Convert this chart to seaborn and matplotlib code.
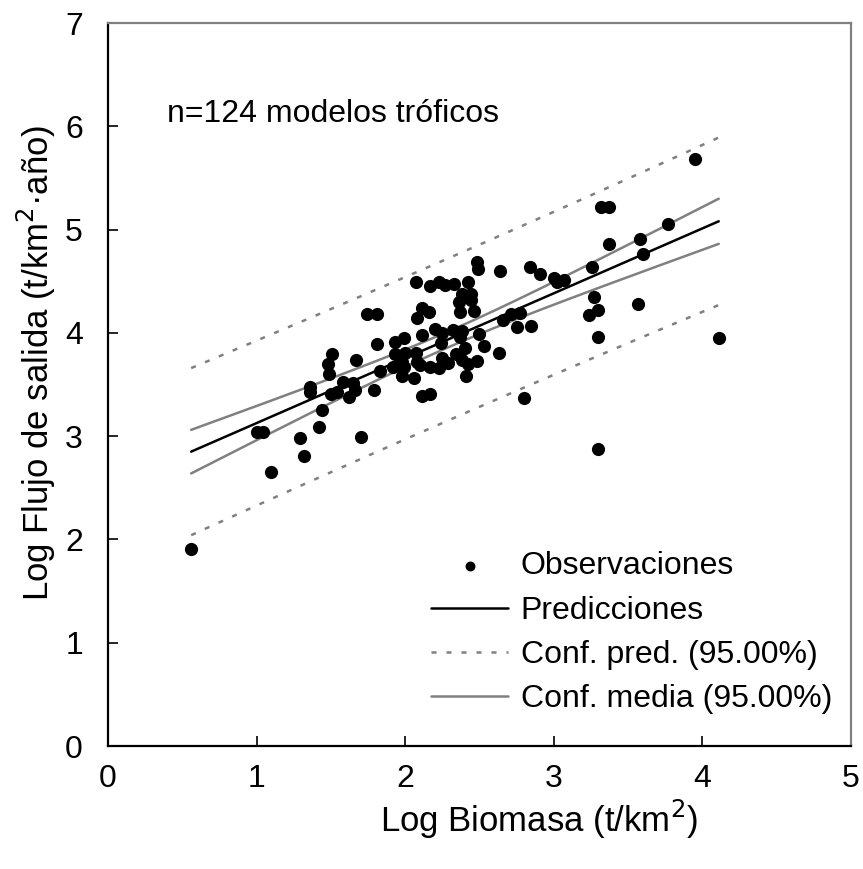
import numpy as np
import pandas as pd
import matplotlib
matplotlib.use("Agg")
import matplotlib.pyplot as plt
import seaborn as sns

# Observed trophic models: log biomass (t/km2) vs log outflow (t/km2·year)
log_biomasa = [
    0.56, 1.00, 1.04, 1.10, 1.29, 1.32, 1.36, 1.36, 1.42, 1.44,
    1.48, 1.49, 1.51, 1.50, 1.54, 1.58, 1.62, 1.65, 1.66, 1.67,
    1.70, 1.74, 1.79, 1.81, 1.81, 1.83,
    1.93, 1.99, 1.93, 2.00, 2.07, 1.92, 1.98, 1.99, 1.98, 2.06,
    2.08, 2.10, 2.11, 2.17, 2.11, 2.17, 2.23, 2.24, 2.25, 2.29,
    2.34, 2.38, 2.42, 2.41, 2.40, 2.48, 2.53, 2.63, 2.50, 2.20,
    2.25, 2.32, 2.38, 2.37, 2.08, 2.11, 2.16, 2.07, 2.17, 2.23,
    2.27, 2.33, 2.42, 2.38, 2.44, 2.36, 2.44, 2.37, 2.46, 2.48,
    2.49, 2.64, 2.66, 2.71, 2.77, 2.75, 2.85, 2.84, 2.91, 3.00,
    3.02, 3.07, 2.80,
    3.26, 3.27, 3.24, 3.30, 3.30, 3.30, 3.32, 3.37, 3.37, 3.57,
    3.58, 3.60, 3.77, 3.95, 4.11,
]
log_flujo = [
    1.91, 3.04, 3.04, 2.65, 2.98, 2.81, 3.48, 3.43, 3.09, 3.25,
    3.70, 3.60, 3.80, 3.41, 3.43, 3.52, 3.38, 3.51, 3.45, 3.74,
    2.99, 4.18, 3.45, 4.18, 3.89, 3.63,
    3.91, 3.95, 3.80, 3.81, 3.81, 3.67, 3.72, 3.67, 3.58, 3.56,
    3.72, 3.69, 3.39, 3.41, 3.98, 3.67, 3.66, 3.90, 3.76, 3.71,
    3.80, 3.74, 3.70, 3.58, 3.85, 3.73, 3.87, 3.81, 3.99, 4.04,
    4.00, 4.03, 4.02, 3.96, 4.14, 4.24, 4.20, 4.49, 4.45, 4.49,
    4.46, 4.47, 4.49, 4.38, 4.38, 4.30, 4.32, 4.20, 4.21, 4.69,
    4.62, 4.60, 4.12, 4.18, 4.19, 4.06, 4.07, 4.64, 4.57, 4.53,
    4.49, 4.51, 3.37,
    4.64, 4.35, 4.17, 4.22, 3.96, 2.88, 5.22, 5.22, 4.86, 4.28,
    4.91, 4.76, 5.05, 5.68, 3.95,
]

t_95 = 1.98  # two-sided 95% Student t quantile for ~100 d.f.

obs = pd.DataFrame({"x": log_biomasa, "y": log_flujo})

# Ordinary least squares fit with mean and prediction intervals
x = obs["x"].to_numpy()
y = obs["y"].to_numpy()
n = len(x)
slope, intercept = np.polyfit(x, y, 1)
resid = y - (intercept + slope * x)
s = np.sqrt(np.sum(resid ** 2) / (n - 2))
sxx = np.sum((x - x.mean()) ** 2)
xg = np.linspace(x.min(), x.max(), 200)
yg = intercept + slope * xg
se_mean = s * np.sqrt(1.0 / n + (xg - x.mean()) ** 2 / sxx)
se_pred = s * np.sqrt(1.0 + 1.0 / n + (xg - x.mean()) ** 2 / sxx)
fit = pd.DataFrame({
    "x": xg,
    "pred": yg,
    "mean_lo": yg - t_95 * se_mean,
    "mean_hi": yg + t_95 * se_mean,
    "pi_lo": yg - t_95 * se_pred,
    "pi_hi": yg + t_95 * se_pred,
})

sns.set_theme(style="white")
plt.rcParams["font.family"] = ["Liberation Sans", "DejaVu Sans"]
plt.rcParams["text.color"] = "black"
plt.rcParams["axes.labelcolor"] = "black"
plt.rcParams["xtick.color"] = "black"
plt.rcParams["ytick.color"] = "black"

FS = 23
FS_TITLE = 25

fig = plt.figure(figsize=(8.63, 8.69), dpi=100)
ax = fig.add_axes([0.1251, 0.1415, 0.8610, 0.8320])

grey = "#808080"
sns.lineplot(data=fit, x="x", y="pi_hi", ax=ax, color=grey, lw=1.8,
             linestyle=(0, (2, 4)), label="Conf. pred. (95.00%)")
sns.lineplot(data=fit, x="x", y="pi_lo", ax=ax, color=grey, lw=1.8,
             linestyle=(0, (2, 4)), label="_nolegend_")
sns.lineplot(data=fit, x="x", y="mean_hi", ax=ax, color=grey, lw=1.8,
             label="Conf. media (95.00%)")
sns.lineplot(data=fit, x="x", y="mean_lo", ax=ax, color=grey, lw=1.8,
             label="_nolegend_")
sns.lineplot(data=fit, x="x", y="pred", ax=ax, color="black", lw=1.8,
             label="Predicciones")
sns.scatterplot(data=obs, x="x", y="y", ax=ax, color="black", s=90,
                edgecolor="black", linewidth=0, zorder=5,
                label="Observaciones")

ax.set_xlim(0, 5)
ax.set_ylim(0, 7)
ax.set_xticks(range(0, 6))
ax.set_yticks(range(0, 8))
ax.tick_params(direction="in", length=7, width=1.2, colors="black",
               labelcolor="black", labelsize=FS, left=True, bottom=True)
ax.tick_params(axis="y", pad=18)
ax.tick_params(axis="x", pad=13)
for side in ("left", "bottom"):
    ax.spines[side].set_color("black")
    ax.spines[side].set_linewidth(1.6)
for side in ("top", "right"):
    ax.spines[side].set_color(grey)
    ax.spines[side].set_linewidth(1.6)

ax.set_xlabel("Log Biomasa (t/km$^2$)", fontsize=FS_TITLE, color="black")
ax.set_ylabel("Log Flujo de salida (t/km$^2$·año)", fontsize=FS_TITLE,
              color="black")
ax.xaxis.set_label_coords(0.58, -0.072)
ax.yaxis.set_label_coords(-0.067, 0.53)

ax.text(0.40, 6.12, "n=124 modelos tróficos", fontsize=FS,
        ha="left", va="center", color="black")

handles, labels = ax.get_legend_handles_labels()
order = ["Observaciones", "Predicciones", "Conf. pred. (95.00%)",
         "Conf. media (95.00%)"]
hmap = dict(zip(labels, handles))
leg = ax.legend([hmap[k] for k in order], order, loc="lower left",
                bbox_to_anchor=(0.418, 0.026), frameon=False, fontsize=FS,
                handlelength=2.4, handletextpad=0.4, labelspacing=0.45,
                markerscale=0.75, borderaxespad=0)
for txt in leg.get_texts():
    txt.set_color("black")

fig.savefig("out.png", dpi=100)
